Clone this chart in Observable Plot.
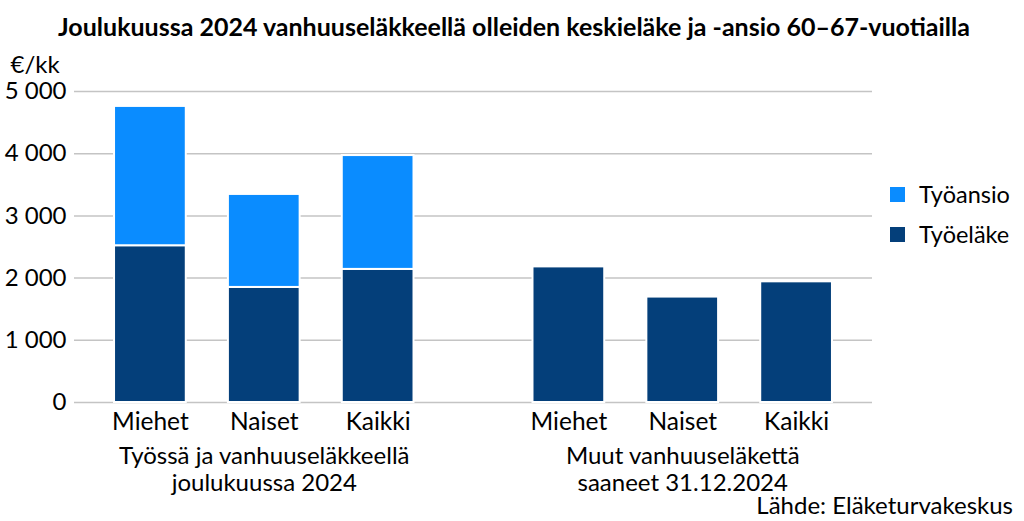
<!DOCTYPE html>
<html><head><meta charset="utf-8">
<script src="https://cdn.jsdelivr.net/npm/d3@7"></script>
<script src="https://cdn.jsdelivr.net/npm/@observablehq/plot@0.6"></script>
<style>
body{margin:0;background:#fff;font-family:Lato,"Open Sans",sans-serif;color:#000;}
#wrap{position:relative;width:1024px;height:521px;overflow:hidden;background:#fff}
#title{position:absolute;left:0;top:11px;width:1024px;text-align:center;font-weight:bold;font-size:25px;line-height:30px;white-space:nowrap;padding-left:2px}
#chart{position:absolute;left:0;top:45px}
#legend{position:absolute;left:890px;top:174px;font-size:23.5px}
#legend .row{display:flex;align-items:center;height:40px}
#legend .sw{width:15px;height:15px;margin-right:14px}
#source{position:absolute;right:11px;top:491px;font-size:24px;line-height:28px}
</style></head><body>
<div id="wrap">
<div id="title">Joulukuussa 2024 vanhuuseläkkeellä olleiden keskieläke ja -ansio 60–67-vuotiailla</div>
<div id="chart"></div>
<div id="legend"></div>
<div id="source">Lähde: Eläketurvakeskus</div>
</div>
<script>
const groups = ["Työssä ja vanhuuseläkkeellä\njoulukuussa 2024", "Muut vanhuuseläkettä\nsaaneet 31.12.2024"];
const categories = ["Miehet", "Naiset", "Kaikki"];
const seriesNames = ["Työansio", "Työeläke"];
const seriesColors = ["#0a8cff", "#043f7a"];
const tyoelake = [[2520, 1850, 2140], [2180, 1695, 1940]];
const tyoansio = [[2240, 1495, 1830], [0, 0, 0]];
const yTicks = [0, 1000, 2000, 3000, 4000, 5000];
const yLabel = "€/kk";

// layout constants (in category-slot units)
const GROUP_GAP = 0.675;
const HALF_BAR = 0.315;
const OUTER = 2 / 3;
const groupStep = categories.length + GROUP_GAP;
const pos = (gi, ci) => gi * groupStep + ci;

const rects = [];
const labels = [];
groups.forEach((g, gi) => {
  categories.forEach((c, ci) => {
    const p = pos(gi, ci);
    const e = tyoelake[gi][ci];
    const a = tyoansio[gi][ci];
    rects.push({x1: p - HALF_BAR, x2: p + HALF_BAR, y1: 0, y2: e, series: seriesNames[1]});
    if (a > 0) rects.push({x1: p - HALF_BAR, x2: p + HALF_BAR, y1: e, y2: e + a, series: seriesNames[0]});
    labels.push({x: p, text: c});
  });
});
const groupLabels = groups.map((g, gi) => ({x: pos(gi, (categories.length - 1) / 2), text: g}));
const lastPos = pos(groups.length - 1, categories.length - 1);

const fmt = d => d3.format(",")(d).replace(/,/g, "\u00a0");

const chart = Plot.plot({
  width: 1024,
  height: 450,
  marginLeft: 74,
  marginRight: 152,
  marginTop: 46,
  marginBottom: 93,
  style: {fontFamily: "Lato, 'Open Sans', sans-serif", fontSize: "24px", color: "#000", background: "#fff"},
  x: {type: "linear", domain: [-OUTER, lastPos + OUTER], axis: null},
  y: {domain: [0, 5000], axis: null},
  color: {domain: seriesNames, range: seriesColors},
  marks: [
    Plot.ruleY(yTicks, {stroke: "#c4c4c4", strokeWidth: 1.5}),
    Plot.rect(rects, {x1: "x1", x2: "x2", y1: "y1", y2: "y2", fill: "series", stroke: "#fff", strokeWidth: 2}),
    Plot.axisY(yTicks, {tickSize: 0, tickPadding: 8, tickFormat: fmt, fontSize: 24}),
    Plot.text(labels, {x: "x", text: "text", frameAnchor: "bottom", lineAnchor: "top", dy: 10, fontSize: 24.5}),
    Plot.text(groupLabels, {x: "x", text: "text", frameAnchor: "bottom", lineAnchor: "top", dy: 43, fontSize: 24, lineHeight: 1.1}),
    Plot.text([yLabel], {frameAnchor: "top-left", textAnchor: "start", lineAnchor: "bottom", dx: -64, dy: -19, fontSize: 24})
  ]
});
document.getElementById("chart").appendChild(chart);

const legend = document.getElementById("legend");
seriesNames.forEach((s, i) => {
  const row = document.createElement("div");
  row.className = "row";
  const sw = document.createElement("div");
  sw.className = "sw";
  sw.style.background = seriesColors[i];
  const t = document.createElement("span");
  t.textContent = s;
  row.appendChild(sw);
  row.appendChild(t);
  legend.appendChild(row);
});
</script>
</body></html>
